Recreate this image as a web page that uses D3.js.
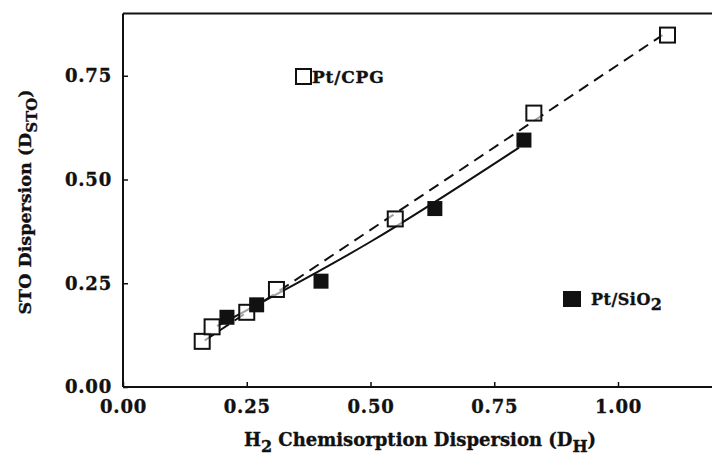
<!DOCTYPE html>
<html>
<head>
<meta charset="utf-8">
<script src="https://cdn.jsdelivr.net/npm/d3@7"></script>
<style>
  body { margin: 0; background: #fff; }
  text { font-family: "DejaVu Serif", serif; font-weight: bold; fill: #111; stroke: #111; stroke-width: 0.35px; }
</style>
</head>
<body>
<script>
// values
var cpgX = [0.16, 0.18, 0.25, 0.31, 0.55, 0.83, 1.10];
var cpgY = [0.11, 0.145, 0.18, 0.235, 0.405, 0.66, 0.848];
var sio2X = [0.21, 0.27, 0.40, 0.63, 0.81];
var sio2Y = [0.168, 0.198, 0.255, 0.43, 0.595];

// fitted lines
var cpgFitX = [0.165, 1.09];
var cpgFitY = [0.112, 0.848];
var sio2FitX = [0.19, 0.50, 0.80];
var sio2FitY = [0.147, 0.35, 0.577];

var xTicks = [0, 0.25, 0.5, 0.75, 1.0];
var yTicks = [0, 0.25, 0.5, 0.75];

var width = 712,
    height = 459;

var svg = d3.select("body")
            .append("svg")
            .attr("width", width)
            .attr("height", height);

var x = d3.scaleLinear().domain([0, 1.2]).range([123, 717]);
var y = d3.scaleLinear().domain([0, 0.9]).range([387, 13.5]);

var g = svg.append("g");

// frame: top border
g.append("line")
 .attr("x1", x(0)).attr("x2", width)
 .attr("y1", y(0.9)).attr("y2", y(0.9))
 .attr("stroke", "#111").attr("stroke-width", 2);

var xAxis = g.append("g")
  .attr("transform", "translate(0," + y(0) + ")")
  .call(d3.axisBottom(x).tickValues(xTicks).tickSize(-5).tickPadding(13)
          .tickFormat(d3.format(".2f")));

var yAxis = g.append("g")
  .attr("transform", "translate(" + x(0) + ",0)")
  .call(d3.axisLeft(y).tickValues(yTicks).tickSize(-5).tickPadding(11)
          .tickFormat(d3.format(".2f")));

[xAxis, yAxis].forEach(function(a) {
  a.select(".domain").attr("stroke", "#111").attr("stroke-width", 2);
  a.selectAll(".tick line").attr("stroke", "#111").attr("stroke-width", 1.5);
  a.selectAll(".tick text")
   .attr("fill", "#111")
   .style("font-family", "DejaVu Serif")
   .style("font-weight", "bold")
   .style("font-size", "18px")
   .style("letter-spacing", "0.8px");
});
xAxis.select(".domain").attr("d", "M" + x(0) + ",0H" + width);
yAxis.select(".domain").attr("d", "M0," + y(0) + "V" + y(0.9));

// fit lines
var line = d3.line().x(d => x(d[0])).y(d => y(d[1]));

g.append("path")
 .datum(cpgFitX.map((v, i) => [v, cpgFitY[i]]))
 .attr("d", line)
 .attr("fill", "none")
 .attr("stroke", "#111")
 .attr("stroke-width", 2)
 .attr("stroke-dasharray", "11 7");

g.append("path")
 .datum(sio2FitX.map((v, i) => [v, sio2FitY[i]]))
 .attr("d", line.curve(d3.curveMonotoneX))
 .attr("fill", "none")
 .attr("stroke", "#111")
 .attr("stroke-width", 2);

var s = 15;

g.selectAll("rect.cpg")
 .data(cpgX.map((v, i) => [v, cpgY[i]]))
 .enter()
 .append("rect")
   .attr("class", "cpg")
   .attr("x", d => x(d[0]) - s / 2)
   .attr("y", d => y(d[1]) - s / 2)
   .attr("width", s)
   .attr("height", s)
   .attr("fill", "#fff")
   .attr("fill-opacity", 0.6)
   .attr("stroke", "#111")
   .attr("stroke-width", 2);

g.selectAll("rect.sio2")
 .data(sio2X.map((v, i) => [v, sio2Y[i]]))
 .enter()
 .append("rect")
   .attr("class", "sio2")
   .attr("x", d => x(d[0]) - s / 2)
   .attr("y", d => y(d[1]) - s / 2)
   .attr("width", s)
   .attr("height", s)
   .attr("fill", "#111");

// legends
g.append("rect")
 .attr("x", 296).attr("y", 69).attr("width", 15).attr("height", 15)
 .attr("fill", "#fff").attr("stroke", "#111").attr("stroke-width", 2);
g.append("text").attr("x", 312).attr("y", 83)
 .style("font-size", "17px").style("letter-spacing", "0.8px").text("Pt/CPG");

g.append("rect")
 .attr("x", 563).attr("y", 291).attr("width", 18).attr("height", 16)
 .attr("fill", "#111");
var t2 = g.append("text").attr("x", 591).attr("y", 305)
  .style("font-size", "16px").style("letter-spacing", "0.5px");
t2.append("tspan").text("Pt/SiO");
t2.append("tspan").attr("dy", 5).style("font-size", "16px").text("2");

// axis titles
var xt = svg.append("text")
  .attr("x", 420).attr("y", 446)
  .attr("text-anchor", "middle")
  .style("font-size", "18px");
xt.append("tspan").text("H");
xt.append("tspan").attr("dy", 6).style("font-size", "16px").text("2");
xt.append("tspan").attr("dy", -6).text(" Chemisorption Dispersion (D");
xt.append("tspan").attr("dy", 6).style("font-size", "16px").text("H");
xt.append("tspan").attr("dy", -6).text(")");

var yt = svg.append("text")
  .attr("transform", "translate(31,202) rotate(-90)")
  .attr("text-anchor", "middle")
  .style("font-size", "17.5px");
yt.append("tspan").text("STO Dispersion (D");
yt.append("tspan").attr("dy", 6).style("font-size", "15px").text("STO");
yt.append("tspan").attr("dy", -6).text(")");
</script>
</body>
</html>
